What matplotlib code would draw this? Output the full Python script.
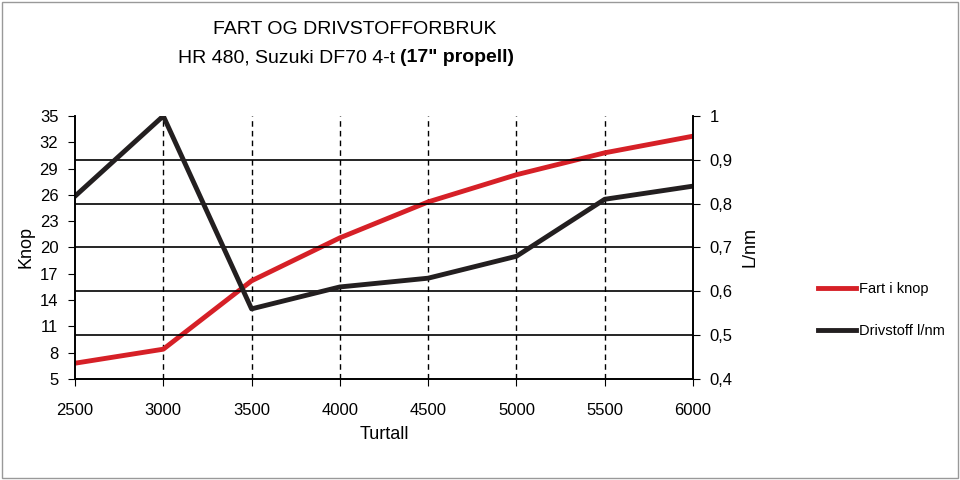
import matplotlib.pyplot as plt

turtall = [2500, 3000, 3500, 4000, 4500, 5000, 5500, 6000]
fart = [6.8, 8.4, 16.2, 21.1, 25.2, 28.3, 30.8, 32.7]
drivstoff = [0.817, 1.0, 0.56, 0.61, 0.63, 0.68, 0.81, 0.84]
left_ticks = [5, 8, 11, 14, 17, 20, 23, 26, 29, 32, 35]
right_ticks = [0.4, 0.5, 0.6, 0.7, 0.8, 0.9, 1.0]

plt.rcParams['font.family'] = ['Liberation Sans', 'DejaVu Sans']
fig = plt.figure(figsize=(9.6, 4.8), dpi=100)
ax = fig.add_axes([75/960, 1-379/480, 618/960, 263/480])
ax2 = ax.twinx()

for x in turtall[1:-1]:
    ax.axvline(x, color='black', ls=(0, (4, 3)), lw=1)
for v in right_ticks[1:-1]:
    ax2.axhline(v, color='black', lw=1.2)

ax.plot(turtall, fart, color='#d62027', lw=3.5, label='Fart i knop')
ax2.plot(turtall, drivstoff, color='#231f20', lw=3.5, label='Drivstoff l/nm')

ax.set_xlim(2500, 6000)
ax.set_ylim(5, 35)
ax2.set_ylim(0.4, 1.0)
ax.set_xticks(turtall)
ax.set_yticks(left_ticks)
ax2.set_yticks(right_ticks)
ax2.set_yticklabels([f"{v:g}".replace('.', ',') for v in right_ticks])
for a in (ax, ax2):
    a.spines['top'].set_visible(False)
    a.tick_params(labelsize=12, length=5, pad=7)
    for s in a.spines.values():
        s.set_linewidth(1.2)
ax.tick_params(axis='x', pad=12)
ax.set_xlabel('Turtall', fontsize=13, labelpad=6)
ax.set_ylabel('Knop', fontsize=13, labelpad=4)
ax2.set_ylabel('L/nm', fontsize=13, labelpad=6)

h1, l1 = ax.get_legend_handles_labels()
h2, l2 = ax2.get_legend_handles_labels()
fig.legend(h1 + h2, l1 + l2, loc='center left', bbox_to_anchor=(805/960, 1-310/480),
           frameon=False, fontsize=10.5, handlelength=2.6, handletextpad=0.2,
           labelspacing=1.9)

fig.text(355/960, 1-30/480, 'FART OG DRIVSTOFFORBRUK', ha='center', va='center', fontsize=14)
fig.text(400/960, 1-58/480, 'HR 480, Suzuki DF70 4-t ', ha='right', va='center', fontsize=14)
fig.text(400/960, 1-58/480, '(17" propell)', ha='left', va='center', fontsize=14, fontweight='bold')

fig.patches.append(plt.Rectangle((0.002, 0.004), 0.996, 0.992, transform=fig.transFigure,
                                 fill=False, edgecolor='#999999', lw=1))
fig.savefig('out.png', dpi=100)
